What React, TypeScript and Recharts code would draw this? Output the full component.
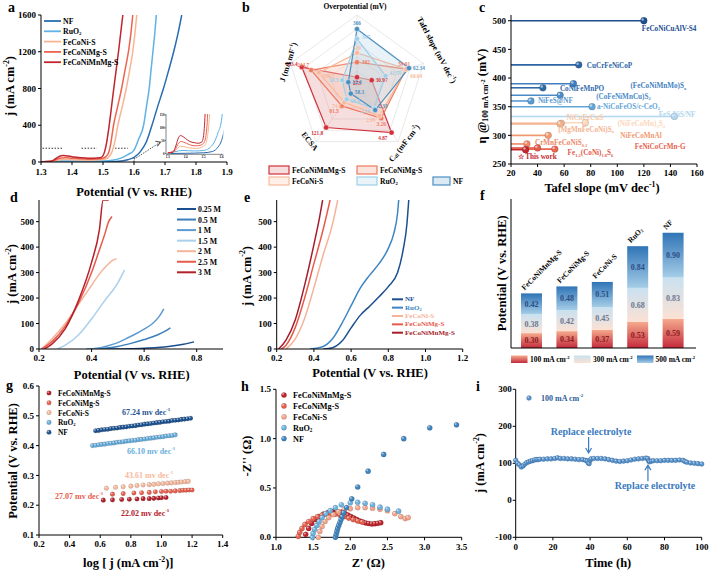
import React from 'react';
import {
  LineChart, Line, ScatterChart, Scatter, BarChart, Bar, LabelList,
  RadarChart, Radar, PolarGrid, PolarAngleAxis, PolarRadiusAxis,
  XAxis, YAxis, ReferenceLine, ReferenceDot,
} from 'recharts';

const FONT = '"Liberation Serif", "Times New Roman", serif';
const tick = { fontSize: 9, fontWeight: 700, fill: '#000', fontFamily: FONT };

type Pt = [number, number];
const xy = (pts: Pt[]) => pts.map(([x, y]) => ({ x, y }));
const fix1 = (v: number) => v.toFixed(1);
const fix2 = (v: number) => Number(v).toFixed(2);

// ---------- (a) LSV curves ----------
const lsvNF: Pt[] = [[1.3, 0], [1.4, 1], [1.5, 3], [1.55, 8], [1.58, 25], [1.6, 50], [1.62, 110], [1.64, 220], [1.658, 400], [1.676, 600], [1.695, 800], [1.712, 1000], [1.728, 1200], [1.742, 1400], [1.754, 1600]];
const lsvRuO2: Pt[] = [[1.3, 0], [1.36, 10], [1.38, 12], [1.45, 10], [1.5, 12], [1.53, 20], [1.56, 45], [1.58, 80], [1.6, 130], [1.615, 250], [1.631, 400], [1.64, 600], [1.649, 800], [1.655, 1000], [1.661, 1200], [1.667, 1400], [1.672, 1600]];
const lsvFeCoNiS: Pt[] = [[1.3, 1], [1.34, 10], [1.37, 28], [1.39, 27], [1.42, 22], [1.46, 20], [1.49, 25], [1.51, 35], [1.52, 60], [1.53, 120], [1.54, 250], [1.548, 400], [1.562, 600], [1.575, 800], [1.586, 1000], [1.596, 1200], [1.603, 1400], [1.609, 1600]];
const lsvFeCoNiMgS: Pt[] = [[1.3, 2], [1.34, 15], [1.36, 40], [1.375, 47], [1.39, 44], [1.42, 35], [1.45, 30], [1.48, 32], [1.5, 40], [1.515, 80], [1.52, 120], [1.525, 200], [1.534, 400], [1.547, 600], [1.56, 800], [1.571, 1000], [1.582, 1200], [1.59, 1400], [1.596, 1600]];
const lsvFeCoNiMnMgS: Pt[] = [[1.3, 3], [1.33, 5], [1.345, 30], [1.36, 62], [1.37, 70], [1.38, 68], [1.4, 58], [1.42, 48], [1.45, 42], [1.47, 40], [1.49, 45], [1.5, 70], [1.505, 110], [1.51, 180], [1.518, 350], [1.526, 560], [1.534, 780], [1.542, 990], [1.55, 1200], [1.557, 1400], [1.564, 1600]];
const aNames = ['NF', 'RuO_{2}', 'FeCoNi-S', 'FeCoNiMg-S', 'FeCoNiMnMg-S'];
const aData = [lsvNF, lsvRuO2, lsvFeCoNiS, lsvFeCoNiMgS, lsvFeCoNiMnMgS];
const aColors = ['#2a6cb0', '#5fb2e4', '#f7b593', '#ec6450', '#c0262d'];
const aXTicks = [1.3, 1.4, 1.5, 1.6, 1.7, 1.8, 1.9];
const aYTicks = [0, 400, 800, 1200, 1600];
const insetXTicks = [1.3, 1.4, 1.5, 1.6];
const insetYTicks = [0, 50, 100, 150];

// ---------- (b) radar ----------
const radarAxes = ['Overpotential', 'Tafel', 'Cdl', 'ECSA', 'J'];
const radarNames = ['FeCoNiMnMg-S', 'FeCoNiMg-S', 'FeCoNi-S', 'RuO_{2}', 'NF'];
const radarFeCoNiMnMgS = [273, 30.97, 4.87, 121.8, 303.4];
const radarFeCoNiMgS = [302, 59.91, 3.26, 81.5, 244.7];
const radarFeCoNiS = [320, 60.04, 2.99, 74.8, 196.7];
const radarRuO2 = [347, 42.59, 2.16, 68.8, 50.3];
const radarNF = [366, 62.34, 2.33, 58.3, 12.4];
const radarValues = [radarFeCoNiMnMgS, radarFeCoNiMgS, radarFeCoNiS, radarRuO2, radarNF];
const radarRange: Pt[] = [[258, 393], [18.6, 74.6], [-0.5, 5.9], [42.3, 148.3], [-41.7, 374]];
const radarStroke = ['#d2303a', '#ee7a5e', '#f8b89a', '#9fd0e8', '#4a8fc1'];
const radarFill = ['#e8a0a0', '#f3b3a0', '#fbd5c0', '#bfe0ef', '#9cc3de'];
// value label offsets, [series][axis] -> dx, dy, anchor
const radarLabelOff: [number, number, string][][] = [
  [[0, 6, 'middle'], [4, 0, 'start'], [-4, 5, 'end'], [-3, 6, 'end'], [-4, -3, 'end']],
  [[5, 0, 'start'], [-2, -5, 'middle'], [0, 6, 'middle'], [-3, 5, 'end'], [-2, -5, 'end']],
  [[0, -5, 'middle'], [4, 7, 'start'], [-4, 4, 'end'], [-3, 4, 'end'], [4, 3, 'start']],
  [[5, -2, 'start'], [4, -3, 'start'], [-4, 2, 'end'], [4, 2, 'start'], [-4, 0, 'end']],
  [[0, -6, 'middle'], [4, 0, 'start'], [3, -4, 'start'], [4, -2, 'start'], [4, 0, 'start']],
];
const radarRows = radarAxes.map((axis, k) => {
  const [lo, hi] = radarRange[k];
  const row: any = { axis };
  radarValues.forEach((vals, s) => { row['s' + s] = (vals[k] - lo) / (hi - lo); });
  return row;
});

// ---------- (c) comparison ----------
const cNames = ['FeCoNiCuAlV-S4', 'CuCrFeNiCoP', '(FeCoNiMnMo)S_{x}', 'CoNiFeMnPO', '(CoFeNiMnCu)S_{2}', 'NiFeS@NF', 'a-NiCoFeOS/c-CeO_{2}', 'FeS-NiS/NF', 'NiCoFeCuS', '(NiFeCoMn)_{3}S_{4}', '(MgMnFeCoNi)S_{x}', 'NiFeCoMnAl', 'CrMnFeCoNiS_{0.3}', 'Fe_{1.2}(CoNi)_{1.8}S_{6}', 'FeNiCoCrMn-G', '☆ This work'];
const cTafel = [120, 71, 67, 44, 57, 35, 81, 143, 58, 76, 57, 48, 32, 40, 53, 31];
const cEta = [500, 423, 390, 383, 370, 360, 350, 333, 321, 322, 320, 300, 285, 278, 276, 275];
const cColors = ['#1d4e8f', '#2d66a6', '#3f7fbf', '#2f6aa9', '#4b8cc7', '#5a9ad0', '#64a6d8', '#b2d6ee', '#f8c7a6', '#fcd6bd', '#f4b290', '#f19a71', '#ee8868', '#e35a4b', '#e8644f', '#c1272d'];
const cLabelAt: [number, number, string][] = [[-2, 8, 'start'], [8, 1, 'start'], [57, 2.5, 'start'], [17, 1.5, 'start'], [36, 1.5, 'start'], [7, 0.5, 'start'], [5, 0, 'start'], [21, -1, 'end'], [5, -5, 'start'], [32, 1.5, 'start'], [-2, 6, 'start'], [72, 1, 'start'], [8, -1, 'start'], [30, 5, 'start'], [80, -2, 'start'], [-8, 7, 'start']];
const cXTicks = [20, 40, 60, 80, 100, 120, 140, 160];
const cYTicks = [250, 300, 350, 400, 450, 500];

// ---------- (d) concentration ----------
const d025: Pt[] = [[0.45, 0], [0.55, 1], [0.6, 3], [0.65, 6], [0.7, 11], [0.75, 19], [0.79, 28]];
const d05: Pt[] = [[0.4, 0], [0.45, 3], [0.5, 10], [0.55, 22], [0.6, 37], [0.65, 55], [0.68, 70], [0.7, 83]];
const d1: Pt[] = [[0.38, 0], [0.42, 3], [0.46, 12], [0.5, 25], [0.53, 40], [0.56, 55], [0.6, 78], [0.63, 98], [0.655, 125], [0.675, 158]];
const d15: Pt[] = [[0.27, 0], [0.3, 15], [0.35, 55], [0.4, 118], [0.45, 190], [0.5, 260], [0.525, 310]];
const d2: Pt[] = [[0.21, 0], [0.25, 40], [0.3, 100], [0.35, 175], [0.4, 250], [0.43, 295], [0.46, 330], [0.48, 348], [0.495, 355]];
const d25: Pt[] = [[0.21, 0], [0.25, 30], [0.3, 90], [0.35, 180], [0.4, 300], [0.43, 390], [0.45, 450], [0.465, 500], [0.478, 520]];
const d3: Pt[] = [[0.22, 0], [0.25, 20], [0.3, 80], [0.35, 190], [0.4, 340], [0.43, 470], [0.444, 585], [0.465, 585]];
const dNames = ['0.25 M', '0.5 M', '1 M', '1.5 M', '2 M', '2.5 M', '3 M'];
const dData = [d025, d05, d1, d15, d2, d25, d3];
const dColors = ['#1c4f8f', '#3c7fbd', '#5d9ad0', '#a9d0ec', '#f6b39a', '#e65a4c', '#b5202a'];
const dXTicks = [0.2, 0.4, 0.6, 0.8];
const jTicks = [0, 100, 200, 300, 400, 500];

// ---------- (e) ----------
const eNF: Pt[] = [[0.45, 0], [0.5, 5], [0.55, 30], [0.6, 83], [0.65, 133], [0.7, 168], [0.75, 205], [0.8, 245], [0.85, 300], [0.88, 390], [0.9, 490], [0.91, 585]];
const eRuO2: Pt[] = [[0.38, 0], [0.45, 10], [0.5, 40], [0.55, 100], [0.6, 170], [0.65, 240], [0.7, 290], [0.75, 335], [0.8, 395], [0.83, 455], [0.85, 535], [0.856, 585]];
const eFeCoNiS: Pt[] = [[0.25, 0], [0.3, 40], [0.35, 120], [0.4, 240], [0.45, 370], [0.5, 490], [0.528, 585]];
const eFeCoNiMgS: Pt[] = [[0.225, 0], [0.25, 15], [0.3, 85], [0.35, 200], [0.4, 335], [0.45, 470], [0.487, 585]];
const eFeCoNiMnMgS: Pt[] = [[0.21, 0], [0.25, 35], [0.3, 115], [0.35, 250], [0.4, 410], [0.43, 515], [0.447, 585]];
const eNames = ['NF', 'RuO_{2}', 'FeCoNi-S', 'FeCoNiMg-S', 'FeCoNiMnMg-S'];
const eData = [eNF, eRuO2, eFeCoNiS, eFeCoNiMgS, eFeCoNiMnMgS];
const eColors = ['#1c4f8f', '#3e86c3', '#f6b39a', '#e65a4c', '#a51d2d'];
const eXTicks = [0.2, 0.4, 0.6, 0.8, 1.0, 1.2];

// ---------- (f) potentials at 100/300/500 mA cm-2 ----------
const fCategories = ['FeCoNiMnMg-S', 'FeCoNiMg-S', 'FeCoNi-S', 'RuO_{2}', 'NF'];
const f100 = [0.30, 0.34, 0.37, 0.53, 0.59];
const f300 = [0.38, 0.42, 0.45, 0.68, 0.83];
const f500 = [0.42, 0.48, 0.51, 0.84, 0.90];
const fRows = fCategories.map((name, i) => ({ name, p100: f100[i], p300: f300[i], p500: f500[i] }));

// ---------- (g) Tafel ----------
const gFeCoNiMnMgS: Pt[] = [[0.62, 0.217], [0.68, 0.218], [0.74, 0.219], [0.79, 0.22], [0.84, 0.221], [0.88, 0.222], [0.92, 0.222], [0.95, 0.223], [0.98, 0.224], [1.0, 0.225], [1.03, 0.226]];
const gFeCoNiMgS: Pt[] = [[0.68, 0.237], [0.75, 0.239], [0.82, 0.241], [0.87, 0.242], [0.92, 0.243], [0.96, 0.245], [1.0, 0.246], [1.03, 0.247], [1.06, 0.247], [1.09, 0.248], [1.12, 0.249], [1.14, 0.25], [1.16, 0.25], [1.18, 0.251], [1.2, 0.251]];
const gFeCoNiS: Pt[] = [[0.64, 0.257], [0.7, 0.26], [0.75, 0.262], [0.8, 0.264], [0.84, 0.266], [0.88, 0.268], [0.92, 0.269], [0.95, 0.27], [0.98, 0.272], [1.01, 0.273], [1.04, 0.274], [1.065, 0.275], [1.09, 0.276], [1.11, 0.277], [1.13, 0.278], [1.155, 0.279], [1.175, 0.28]];
const gRuO2: Pt[] = [[0.55, 0.4], [0.57, 0.401], [0.59, 0.403], [0.61, 0.404], [0.63, 0.405], [0.65, 0.407], [0.67, 0.408], [0.69, 0.409], [0.71, 0.411], [0.73, 0.412], [0.75, 0.413], [0.77, 0.415], [0.79, 0.416], [0.81, 0.417], [0.83, 0.418], [0.85, 0.42], [0.87, 0.421], [0.89, 0.422], [0.91, 0.424], [0.93, 0.425], [0.95, 0.426], [0.97, 0.428], [0.99, 0.429], [1.01, 0.43], [1.03, 0.432], [1.05, 0.433], [1.07, 0.434], [1.09, 0.436]];
const gNF: Pt[] = [[0.57, 0.45], [0.59, 0.451], [0.61, 0.453], [0.63, 0.454], [0.65, 0.455], [0.67, 0.457], [0.69, 0.458], [0.71, 0.459], [0.73, 0.461], [0.75, 0.462], [0.77, 0.463], [0.79, 0.465], [0.81, 0.466], [0.83, 0.467], [0.85, 0.469], [0.87, 0.47], [0.89, 0.472], [0.91, 0.473], [0.93, 0.474], [0.95, 0.476], [0.97, 0.477], [0.99, 0.478], [1.01, 0.48], [1.03, 0.481], [1.05, 0.482], [1.07, 0.484], [1.09, 0.485], [1.11, 0.486], [1.13, 0.488], [1.15, 0.489], [1.17, 0.49], [1.19, 0.492]];
const gNames = ['FeCoNiMnMg-S', 'FeCoNiMg-S', 'FeCoNi-S', 'RuO_{2}', 'NF'];
const gData = [gFeCoNiMnMgS, gFeCoNiMgS, gFeCoNiS, gRuO2, gNF];
const gColors = ['#b5202a', '#e8604e', '#f7b99c', '#6aafdd', '#1f5494'];
const gSlopes = ['22.02', '27.07', '43.61', '66.10', '67.24'];
const gXTicks = [0.2, 0.4, 0.6, 0.8, 1.0, 1.2, 1.4];
const gYTicks = [0.1, 0.2, 0.3, 0.4, 0.5, 0.6];

// ---------- (h) Nyquist ----------
const hFeCoNiMnMgS: Pt[] = [[1.4, 0.03], [1.44, 0.09], [1.48, 0.14], [1.53, 0.18], [1.58, 0.21], [1.64, 0.235], [1.7, 0.25], [1.76, 0.26], [1.82, 0.26], [1.88, 0.255], [1.93, 0.24], [1.97, 0.225], [2.01, 0.21], [2.05, 0.195], [2.09, 0.18], [2.13, 0.165], [2.17, 0.155], [2.21, 0.145], [2.25, 0.14], [2.29, 0.135], [2.33, 0.138], [2.37, 0.142], [2.41, 0.148]];
const hFeCoNiMgS: Pt[] = [[1.3, 0.01], [1.32, 0.05], [1.35, 0.09], [1.39, 0.13], [1.44, 0.16], [1.5, 0.19], [1.56, 0.21], [1.62, 0.225], [1.68, 0.235], [1.74, 0.24], [1.8, 0.235], [1.86, 0.225], [1.92, 0.21], [1.98, 0.195], [2.04, 0.18], [2.1, 0.165], [2.16, 0.155]];
const hFeCoNiS: Pt[] = [[1.57, 0], [1.59, 0.06], [1.62, 0.11], [1.66, 0.16], [1.71, 0.2], [1.77, 0.23], [1.84, 0.26], [1.92, 0.28], [2.0, 0.29], [2.1, 0.3], [2.2, 0.3], [2.3, 0.295], [2.4, 0.285], [2.5, 0.27], [2.6, 0.24], [2.68, 0.21], [2.74, 0.19], [2.78, 0.2]];
const hRuO2: Pt[] = [[1.49, 0], [1.5, 0.04], [1.52, 0.08], [1.55, 0.12], [1.58, 0.16], [1.62, 0.2], [1.67, 0.24], [1.73, 0.27], [1.8, 0.3], [1.88, 0.33], [2.0, 0.35], [2.1, 0.355], [2.2, 0.345], [2.3, 0.33], [2.4, 0.305], [2.5, 0.285], [2.65, 0.265]];
const hNF: Pt[] = [[1.8, 0], [1.81, 0.03], [1.82, 0.06], [1.83, 0.09], [1.845, 0.12], [1.86, 0.15], [1.875, 0.18], [1.89, 0.21], [1.91, 0.25], [1.95, 0.3], [2.02, 0.39], [2.1, 0.51], [2.24, 0.67], [2.45, 0.84], [2.72, 1.0], [3.07, 1.11], [3.43, 1.14]];
const hData = [hFeCoNiMnMgS, hFeCoNiMgS, hFeCoNiS, hRuO2, hNF];
const hColors = ['#c0262d', '#e8604e', '#f4a48a', '#6db3e0', '#3f85c0'];
const hXTicks = [1.0, 1.5, 2.0, 2.5, 3.0, 3.5];
const hYTicks = [0, 0.5, 1.0, 1.5];

// ---------- (i) stability ----------
const iStability: Pt[] = [[0, 108], [1, 100], [2, 96], [3, 90], [4, 93], [5, 98], [6, 102], [7, 104], [8, 106], [9, 107], [10, 109], [11, 110], [12, 110], [13, 111], [15, 111], [17, 112], [19, 112], [21, 113], [22.5, 115], [24, 113], [26, 113], [28, 112], [30, 112], [32, 111], [34, 110], [36, 110], [37.5, 108], [38.5, 106], [39, 101], [39.5, 99], [40, 108], [40.5, 112], [42, 113], [44, 113], [46, 113], [48, 112], [50, 110], [52, 108], [54, 106], [56, 105], [58, 106], [60, 107], [62, 109], [64, 111], [66, 112], [68, 113], [70, 114], [71, 113], [71.5, 106], [72, 104], [73, 106], [74, 107], [76, 107], [78, 107], [80, 108], [82, 108], [84, 108], [86, 108], [88, 109], [90, 108], [91, 105], [92, 103], [94, 101], [96, 100], [98, 99], [100, 98]];
const iXTicks = [0, 20, 40, 60, 80, 100];
const iYTicks = [-100, 0, 100, 200, 300];

// ---------- rich text with sub/superscripts ----------
type Part = { t: string; s?: string };
function parse(s: string): Part[] {
  const out: Part[] = [];
  const re = /([_^~])\{([^}]*)\}/g;
  let last = 0;
  let m: RegExpExecArray | null;
  while ((m = re.exec(s))) {
    if (m.index > last) out.push({ t: s.slice(last, m.index) });
    out.push({ t: m[2], s: m[1] === '_' ? 'sub' : m[1] === '^' ? 'sup' : 'tiny' });
    last = re.lastIndex;
  }
  if (last < s.length) out.push({ t: s.slice(last) });
  return out;
}

function Rich({ x, y, text, size, fill = '#000', anchor = 'middle', angle = 0 }: any) {
  let shift = 0;
  return (
    <text x={x} y={y} fill={fill} fontFamily={FONT} fontWeight={700} fontSize={size} textAnchor={anchor}
      dominantBaseline="central" transform={angle ? `rotate(${angle} ${x} ${y})` : undefined}>
      {parse(text).map((p, i) => {
        const lvl = p.s === 'sup' ? -0.36 : p.s === 'sub' ? 0.22 : p.s === 'tiny' ? -0.02 : 0;
        const target = lvl * size;
        const dy = target - shift;
        shift = target;
        const fs = p.s === 'tiny' ? size * 0.5 : p.s ? size * 0.62 : size;
        return <tspan key={i} dy={dy} fontSize={fs}>{p.t}</tspan>;
      })}
    </text>
  );
}

// top and right axis lines to close the frame
function frame(xd: any, yd: any, category = false) {
  return [
    category
      ? <XAxis key="ft" xAxisId="ft" orientation="top" dataKey="name" tick={false} tickLine={false} height={0} stroke="#000" />
      : <XAxis key="ft" xAxisId="ft" orientation="top" type="number" domain={xd} allowDataOverflow tick={false} tickLine={false} height={0} stroke="#000" />,
    <YAxis key="fr" yAxisId="fr" orientation="right" type="number" domain={yd} allowDataOverflow tick={false} tickLine={false} width={0} stroke="#000" />,
  ];
}

const ball = (color: string, r: number, edge = 'rgba(0,0,0,0.25)') => (p: any) => (
  <g>
    <circle cx={p.cx} cy={p.cy} r={r} fill={color} stroke={edge} strokeWidth={0.5} />
    <circle cx={p.cx - r * 0.35} cy={p.cy - r * 0.35} r={r * 0.38} fill="#fff" opacity={0.55} />
  </g>
);

const box = (left: number, top: number, children: React.ReactNode) => (
  <div style={{ position: 'absolute', left, top }}>{children}</div>
);

function PanelA() {
  return (
    <>
      {box(0, 0,
        <LineChart width={240} height={200} margin={{ top: 15, right: 13, bottom: 0, left: 11 }}>
          <XAxis type="number" dataKey="x" domain={[1.3, 1.9]} ticks={aXTicks} interval={0} allowDataOverflow tick={tick} tickSize={3} tickMargin={4} stroke="#000" height={38} tickFormatter={fix1} />
          <YAxis type="number" domain={[0, 1600]} ticks={aYTicks} interval={0} allowDataOverflow tick={tick} tickSize={3} tickMargin={2} stroke="#000" width={30} />
          {frame([1.3, 1.9], [0, 1600])}
          <ReferenceLine segment={[{ x: 1.305, y: 150 }, { x: 1.372, y: 150 }]} stroke="#333" strokeDasharray="1.5 1.5" />
          <ReferenceLine segment={[{ x: 1.431, y: 150 }, { x: 1.48, y: 150 }]} stroke="#333" strokeDasharray="1.5 1.5" />
          <ReferenceLine segment={[{ x: 1.539, y: 150 }, { x: 1.58, y: 150 }]} stroke="#333" strokeDasharray="1.5 1.5" />
          <ReferenceLine segment={[{ x: 1.6, y: 0 }, { x: 1.6, y: 60 }]} stroke="#333" strokeDasharray="1.5 1.5" />
          <ReferenceLine segment={[{ x: 1.6, y: 30 }, { x: 1.685, y: 215 }]} stroke="#555" strokeDasharray="1.5 1.2" />
          <ReferenceDot x={1.685} y={215} shape={(p: any) => (
            <path d={`M${p.cx - 5} ${p.cy - 1} L${p.cx} ${p.cy} L${p.cx - 3} ${p.cy + 4}`} fill="none" stroke="#555" strokeWidth={1.2} />
          )} />
          {aNames.map((n, i) => (
            <Line key={n} data={xy(aData[i])} dataKey="y" type="monotone" stroke={aColors[i]} strokeWidth={1.5} dot={false} isAnimationActive={false} />
          ))}
        </LineChart>
      )}
      {box(160, 110,
        <LineChart width={66} height={50} margin={{ top: 4, right: 2.7, bottom: 0.7, left: 2 }}>
          <XAxis type="number" dataKey="x" domain={[1.29, 1.61]} ticks={insetXTicks} interval={0} allowDataOverflow tick={{ ...tick, fontSize: 3.2 }} tickSize={1} tickMargin={0.5} stroke="#333" strokeWidth={0.6} height={5} tickFormatter={fix1} />
          <YAxis type="number" domain={[-3, 154]} ticks={insetYTicks} interval={0} allowDataOverflow tick={{ ...tick, fontSize: 3.2 }} tickSize={1} tickMargin={0.5} stroke="#333" strokeWidth={0.6} width={4} />
          {frame([1.29, 1.61], [-3, 154])}
          {aNames.map((n, i) => (
            <Line key={n} data={xy(aData[i])} dataKey="y" type="monotone" stroke={aColors[i]} strokeWidth={1} dot={false} isAnimationActive={false} />
          ))}
        </LineChart>
      )}
    </>
  );
}

const radarDot = (k: number) => (p: any) => {
  const [dx, dy, anchor] = radarLabelOff[k][p.index];
  return (
    <g key={`d${k}-${p.index}`}>
      <circle cx={p.cx} cy={p.cy} r={2.6} fill={radarStroke[k]} stroke="#fff" strokeWidth={0.4} />
      <text x={p.cx + dx} y={p.cy + dy} textAnchor={anchor} dominantBaseline="central" fontFamily={FONT} fontWeight={700} fontSize={5.3} fill={radarStroke[k]}>
        {radarValues[k][p.index]}
      </text>
    </g>
  );
};

function PanelB() {
  return box(240, 0,
    <RadarChart width={235} height={165} cx={117} cy={85} outerRadius={70} data={radarRows} margin={{ top: 0, right: 0, bottom: 0, left: 0 }}>
      <PolarGrid gridType="polygon" stroke="#d9d9d9" strokeWidth={0.6} polarRadius={[14, 28, 42, 56, 70]} />
      <PolarAngleAxis dataKey="axis" tick={false} tickLine={false} axisLine={false} />
      <PolarRadiusAxis domain={[0, 1]} tick={false} axisLine={false} />
      {radarNames.map((n, k) => (
        <Radar key={n} dataKey={'s' + k} stroke={radarStroke[k]} strokeWidth={1.2} fill={radarFill[k]} fillOpacity={k === 0 ? 0.35 : 0.22} dot={radarDot(k)} isAnimationActive={false} />
      ))}
    </RadarChart>
  );
}

function PanelC() {
  const pts = cNames.map((_, k) => ({ x: cTafel[k], y: cEta[k], k }));
  return box(470, 0,
    <ScatterChart width={240} height={200} margin={{ top: 15, right: 13, bottom: 0, left: 11 }}>
      <XAxis type="number" dataKey="x" domain={[20, 160]} ticks={cXTicks} interval={0} tick={tick} tickSize={3} tickMargin={3} stroke="#000" height={36} />
      <YAxis type="number" dataKey="y" domain={[250, 510]} ticks={cYTicks} interval={0} tick={tick} tickSize={3} tickMargin={2} stroke="#000" width={30} />
      {frame([20, 160], [250, 510])}
      {cNames.map((n, k) => (
        <ReferenceLine key={n} segment={[{ x: 20, y: cEta[k] }, { x: cTafel[k], y: cEta[k] }]} stroke={cColors[k]} strokeWidth={1.6} />
      ))}
      <Scatter data={pts} isAnimationActive={false} shape={(p: any) => {
        const k = p.payload.k;
        const [dx, dy, anchor] = cLabelAt[k];
        return (
          <g>
            {ball(cColors[k], 3.4)(p)}
            <Rich x={p.cx + dx} y={p.cy + dy} text={cNames[k]} size={7.2} fill={cColors[k]} anchor={anchor} />
          </g>
        );
      }} />
    </ScatterChart>
  );
}

function PanelD() {
  return box(0, 190,
    <LineChart width={240} height={195} margin={{ top: 10, right: 17, bottom: 3, left: 9 }}>
      <XAxis type="number" dataKey="x" domain={[0.2, 0.9]} ticks={dXTicks} interval={0} allowDataOverflow tick={tick} tickSize={3} tickMargin={3} stroke="#000" height={33} tickFormatter={fix1} />
      <YAxis type="number" domain={[0, 585]} ticks={jTicks} interval={0} allowDataOverflow tick={tick} tickSize={3} tickMargin={2} stroke="#000" width={30} />
      {frame([0.2, 0.9], [0, 585])}
      {dNames.map((n, i) => (
        <Line key={n} data={xy(dData[i])} dataKey="y" type="monotone" stroke={dColors[i]} strokeWidth={1.5} dot={false} isAnimationActive={false} />
      ))}
    </LineChart>
  );
}

function PanelE() {
  return box(235, 190,
    <LineChart width={240} height={195} margin={{ top: 10, right: 12.3, bottom: 3, left: 11.7 }}>
      <XAxis type="number" dataKey="x" domain={[0.2, 1.2]} ticks={eXTicks} interval={0} allowDataOverflow tick={tick} tickSize={3} tickMargin={3} stroke="#000" height={33} tickFormatter={fix1} />
      <YAxis type="number" domain={[0, 585]} ticks={jTicks} interval={0} allowDataOverflow tick={tick} tickSize={3} tickMargin={2} stroke="#000" width={30} />
      {frame([0.2, 1.2], [0, 585])}
      {eNames.map((n, i) => (
        <Line key={n} data={xy(eData[i])} dataKey="y" type="monotone" stroke={eColors[i]} strokeWidth={1.5} dot={false} isAnimationActive={false} />
      ))}
    </LineChart>
  );
}

function PanelF() {
  const lbl = { fontSize: 8, fontWeight: 700, fontFamily: FONT };
  return box(470, 190,
    <BarChart width={240} height={195} data={fRows} margin={{ top: 9, right: 14, bottom: 27, left: 11 }}>
      <defs>
        <linearGradient id="fg100" x1="0" y1="0" x2="0" y2="1">
          <stop offset="0" stopColor="#f5ab8e" /><stop offset="1" stopColor="#c42a3b" />
        </linearGradient>
        <linearGradient id="fg300" x1="0" y1="0" x2="0" y2="1">
          <stop offset="0" stopColor="#c9e1f0" /><stop offset="1" stopColor="#fbe1d3" />
        </linearGradient>
        <linearGradient id="fg500" x1="0" y1="0" x2="0" y2="1">
          <stop offset="0" stopColor="#2f74b6" /><stop offset="1" stopColor="#a5cde7" />
        </linearGradient>
      </defs>
      <XAxis dataKey="name" tick={false} tickLine={false} stroke="#000" height={10} padding={{ left: 3, right: 5 }} />
      <YAxis type="number" domain={[0, 3]} tick={false} tickLine={false} stroke="#000" width={30} />
      {frame(null, [0, 3], true)}
      <Bar dataKey="p100" stackId="s" fill="url(#fg100)" barSize={21} isAnimationActive={false}>
        <LabelList dataKey="p100" position="center" formatter={fix2} fill="#8e1b22" {...lbl} />
      </Bar>
      <Bar dataKey="p300" stackId="s" fill="url(#fg300)" barSize={21} isAnimationActive={false}>
        <LabelList dataKey="p300" position="center" formatter={fix2} fill="#6b7892" {...lbl} />
      </Bar>
      <Bar dataKey="p500" stackId="s" fill="url(#fg500)" barSize={21} isAnimationActive={false}>
        <LabelList dataKey="p500" position="center" formatter={fix2} fill="#2a4e86" {...lbl} />
        <LabelList dataKey="name" content={(p: any) => {
          const k = p.index ?? fCategories.indexOf(p.value);
          return <Rich x={p.x + p.width / 2 - 9} y={p.y - 5} text={fCategories[k]} size={7.5} anchor="start" angle={-45} />;
        }} />
      </Bar>
    </BarChart>
  );
}

function PanelG() {
  return box(0, 380,
    <ScatterChart width={240} height={193} margin={{ top: 6, right: 17.3, bottom: 3, left: 9 }}>
      <XAxis type="number" dataKey="x" domain={[0.2, 1.4]} ticks={gXTicks} interval={0} tick={tick} tickSize={3} tickMargin={3} stroke="#000" height={35} tickFormatter={fix1} />
      <YAxis type="number" dataKey="y" domain={[0.1, 0.6]} ticks={gYTicks} interval={0} tick={tick} tickSize={3} tickMargin={2} stroke="#000" width={30} tickFormatter={fix1} />
      {frame([0.2, 1.4], [0.1, 0.6])}
      {gNames.map((n, i) => (
        <Scatter key={n} data={xy(gData[i])} shape={ball(gColors[i], 2.3)} isAnimationActive={false} />
      ))}
    </ScatterChart>
  );
}

function PanelH() {
  return box(235, 380,
    <ScatterChart width={240} height={193} margin={{ top: 9.3, right: 13.3, bottom: 0.7, left: 11 }}>
      <XAxis type="number" dataKey="x" domain={[1.0, 3.5]} ticks={hXTicks} interval={0} tick={tick} tickSize={3} tickMargin={3} stroke="#000" height={35} tickFormatter={fix1} />
      <YAxis type="number" dataKey="y" domain={[0, 1.5]} ticks={hYTicks} interval={0} tick={tick} tickSize={3} tickMargin={2} stroke="#000" width={30} tickFormatter={fix1} />
      {frame([1.0, 3.5], [0, 1.5])}
      {gNames.map((n, i) => (
        <Scatter key={n} data={xy(hData[i])} shape={ball(hColors[i], 2.6)} isAnimationActive={false} />
      ))}
    </ScatterChart>
  );
}

function PanelI() {
  const blue = '#3b7bbf';
  const note = (p: any) => (
    <text x={p.cx} y={p.cy} textAnchor="middle" dominantBaseline="central" fontFamily={FONT} fontWeight={700} fontSize={10} fill={blue}>Replace electrolyte</text>
  );
  return box(470, 380,
    <ScatterChart width={240} height={193} margin={{ top: 9.3, right: 8.3, bottom: 0.7, left: 10.7 }}>
      <XAxis type="number" dataKey="x" domain={[0, 100]} ticks={iXTicks} interval={0} tick={tick} tickSize={3} tickMargin={3} stroke="#000" height={35} />
      <YAxis type="number" dataKey="y" domain={[-100, 300]} ticks={iYTicks} interval={0} tick={tick} tickSize={3} tickMargin={1} stroke="#000" width={35} />
      {frame([0, 100], [-100, 300])}
      <Scatter data={xy(iStability)} shape={ball('#5b95cc', 2.3, '#2e64a0')} isAnimationActive={false} />
      <ReferenceDot x={40.5} y={185} shape={note} />
      <ReferenceDot x={74.9} y={39} shape={note} />
      <ReferenceDot x={39.2} y={128} shape={(p: any) => (
        <path d={`M${p.cx} ${p.cy - 16} L${p.cx} ${p.cy} M${p.cx - 3} ${p.cy - 5} L${p.cx} ${p.cy} L${p.cx + 3} ${p.cy - 5}`} fill="none" stroke={blue} strokeWidth={1.2} />
      )} />
      <ReferenceDot x={71.1} y={95} shape={(p: any) => (
        <path d={`M${p.cx} ${p.cy + 16} L${p.cx} ${p.cy} M${p.cx - 3} ${p.cy + 5} L${p.cx} ${p.cy} L${p.cx + 3} ${p.cy + 5}`} fill="none" stroke={blue} strokeWidth={1.2} />
      )} />
    </ScatterChart>
  );
}

// panel letters, axis titles and legends
const letters: [string, number, number][] = [['a', 8, 7], ['b', 242, 7], ['c', 479, 7], ['d', 10, 197], ['e', 244, 197], ['f', 480, 195], ['g', 6, 385], ['h', 241, 386], ['i', 476, 386]];
const titles: [string, number, number, number][] = [
  ['Potential (V vs. RHE)', 134, 191.5, 0], ['j (mA cm^{-2})', 10, 86, -90],
  ['Tafel slope (mV dec^{-1})', 602, 188, 0], ['η @_{100 mA cm}~{-2} (mV)', 482, 96, -90],
  ['Potential (V vs. RHE)', 131.7, 375, 0], ['j (mA cm^{-2})', 12, 274, -90],
  ['Potential (V vs. RHE)', 370, 372.7, 0], ['j (mA cm^{-2})', 246.7, 276, -90],
  ['Potential (V vs. RHE)', 501.7, 273.3, -90],
  ['log [ j (mA cm^{-2})]', 128.3, 563.3, 0], ['Potential (V vs. RHE)', 13.3, 461, -90],
  ["Z' (Ω)", 368.3, 562.7, 0], ["-Z'' (Ω)", 246.7, 456, -90],
  ['Time (h)', 608.3, 562.7, 0], ['j (mA cm^{-2})', 480, 463, -90],
];
const radarTitles: [string, number, number, number, number][] = [
  ['Overpotential (mV)', 355, 6, 0, 7.5], ['Tafel slope (mV dec^{-1})', 437, 50, 62, 8],
  ['C_{dl} (mF cm^{-2})', 404, 143, -52, 8], ['ECSA', 310, 141, 52, 8], ['J (mA mF^{-1})', 288, 62, -72, 8],
];
const gSlopePos: Pt[] = [[121, 513], [55, 496], [125, 475], [127, 451], [122, 412]];
const bLegendPos: Pt[] = [[269, 170], [357, 170], [269, 181], [357, 181], [433, 181]];

function Overlay() {
  const t = (x: number, y: number, s: string, size: number, fill = '#000') => (
    <Rich key={`${s}-${x}-${y}`} x={x} y={y} text={s} size={size} fill={fill} anchor="start" />
  );
  return (
    <svg width={710} height={573} style={{ position: 'absolute', left: 0, top: 0, pointerEvents: 'none' }}>
      <defs>
        <linearGradient id="lg100" x1="0" y1="0" x2="0" y2="1"><stop offset="0" stopColor="#f5ab8e" /><stop offset="1" stopColor="#c42a3b" /></linearGradient>
        <linearGradient id="lg300" x1="0" y1="0" x2="0" y2="1"><stop offset="0" stopColor="#c9e1f0" /><stop offset="1" stopColor="#fbe1d3" /></linearGradient>
        <linearGradient id="lg500" x1="0" y1="0" x2="0" y2="1"><stop offset="0" stopColor="#2f74b6" /><stop offset="1" stopColor="#a5cde7" /></linearGradient>
      </defs>
      {letters.map(([l, x, y]) => (
        <text key={l} x={x} y={y} dominantBaseline="central" fontFamily={FONT} fontWeight={700} fontSize={14}>{l}</text>
      ))}
      {titles.map(([s, x, y, a], i) => <Rich key={'t' + i} x={x} y={y} text={s} size={12.5} angle={a} />)}
      {radarTitles.map(([s, x, y, a, fs], i) => <Rich key={'r' + i} x={x} y={y} text={s} size={fs} angle={a} />)}

      {/* a legend */}
      {aNames.map((n, i) => (
        <g key={'la' + i}>
          <line x1={44} x2={61} y1={21 + i * 10.3} y2={21 + i * 10.3} stroke={aColors[i]} strokeWidth={1.8} />
          {t(63, 21 + i * 10.3, n, 7.8)}
        </g>
      ))}

      {/* b legend */}
      {radarNames.map((n, k) => {
        const [x, y] = bLegendPos[k];
        const w = k === 4 ? 17 : 20;
        return (
          <g key={'lb' + k}>
            <rect x={x} y={y - 4} width={w} height={8} fill={radarFill[k]} fillOpacity={0.35} stroke={radarStroke[k]} strokeWidth={1.2} />
            {t(x + w + 3, y, n, 7.5)}
          </g>
        );
      })}

      {/* d legend */}
      {dNames.map((n, i) => (
        <g key={'ld' + i}>
          <line x1={177} x2={196} y1={209 + i * 10.55} y2={209 + i * 10.55} stroke={dColors[i]} strokeWidth={2} />
          {t(198, 209 + i * 10.55, n, 7.8)}
        </g>
      ))}

      {/* e legend */}
      {eNames.map((n, i) => (
        <g key={'le' + i}>
          <line x1={392} x2={403} y1={299.3 + i * 8.35} y2={299.3 + i * 8.35} stroke={eColors[i]} strokeWidth={2} />
          {t(405, 299.3 + i * 8.35, n, 7, eColors[i])}
        </g>
      ))}

      {/* f legend */}
      <rect x={511} y={355.5} width={16.5} height={7.5} fill="url(#lg100)" />
      {t(530, 359.3, '100 mA cm^{-2}', 7.5)}
      <rect x={574} y={355.5} width={16.5} height={7.5} fill="url(#lg300)" />
      {t(593, 359.3, '300 mA cm^{-2}', 7.5)}
      <rect x={637} y={355.5} width={16.5} height={7.5} fill="url(#lg500)" />
      {t(655.5, 359.3, '500 mA cm^{-2}', 7.5)}

      {/* g legend and slopes */}
      {gNames.map((n, i) => (
        <g key={'lg' + i}>
          {ball(gColors[i], 2.3)({ cx: 49, cy: 393 + i * 9.8 })}
          {t(58, 393 + i * 9.8, n, 7.4)}
          {t(gSlopePos[i][0], gSlopePos[i][1], gSlopes[i] + ' mv dec^{-1}', 8, gColors[i])}
        </g>
      ))}

      {/* h legend */}
      {gNames.map((n, i) => (
        <g key={'lh' + i}>
          {ball(hColors[i], 2.6)({ cx: 284, cy: 395 + i * 10.9 })}
          {t(293, 395 + i * 10.9, n, 8.2)}
        </g>
      ))}

      {/* i legend */}
      {ball('#5b95cc', 2.3, '#2e64a0')({ cx: 529, cy: 398 })}
      {t(541, 398, '100 mA cm^{-2}', 8, '#2d5d9a')}
    </svg>
  );
}

export default function App() {
  return (
    <div style={{ position: 'fixed', left: 0, top: 0, width: 710, height: 573, background: '#fff', overflow: 'hidden' }}>
      <PanelA />
      <PanelB />
      <PanelC />
      <PanelD />
      <PanelE />
      <PanelF />
      <PanelG />
      <PanelH />
      <PanelI />
      <Overlay />
    </div>
  );
}
